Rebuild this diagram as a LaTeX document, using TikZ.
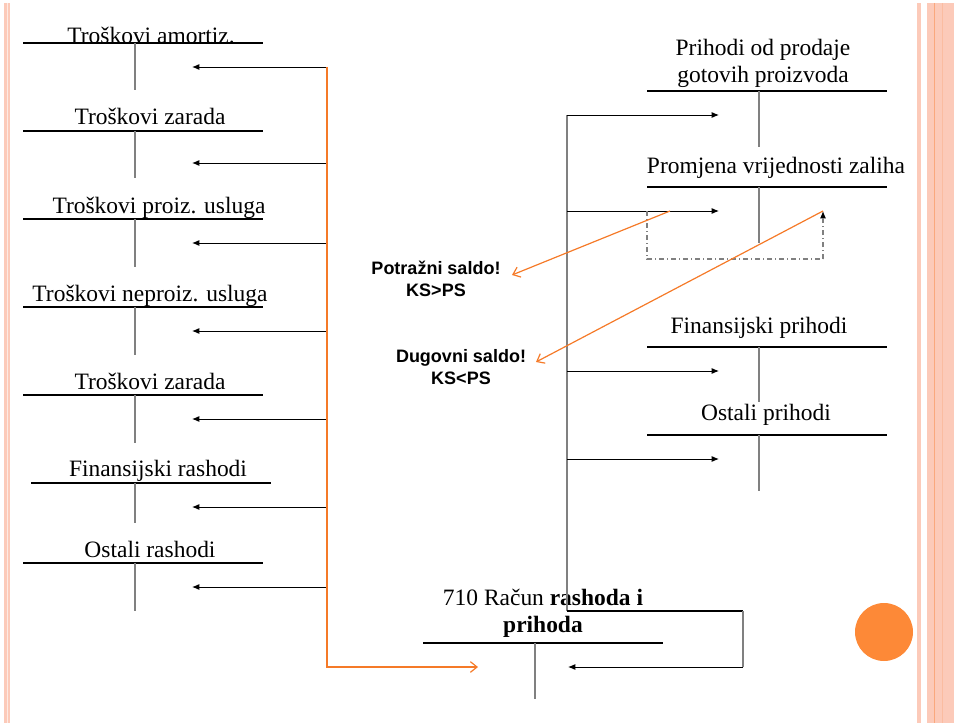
\documentclass[tikz,border=0pt]{standalone}
\usepackage{fontspec}
\setmainfont{Liberation Serif}
\newfontfamily\lblfont{Liberation Sans}
\usetikzlibrary{arrows.meta}
\definecolor{ora}{RGB}{245,122,40}
\definecolor{dot}{RGB}{253,137,55}
\definecolor{strip}{RGB}{252,202,185}
\definecolor{stripd}{RGB}{250,168,125}
\definecolor{stripm}{RGB}{251,188,160}
\definecolor{tgray}{RGB}{128,128,128}
\begin{document}
\begin{tikzpicture}[x=0.75pt,y=-0.75pt,
  acct/.style={font=\fontsize{17.6}{20.3}\selectfont, anchor=base, inner sep=0pt},
  acct2/.style={font=\fontsize{17.6}{20.3}\selectfont, align=center, inner sep=0pt},
  hline/.style={line width=0.8pt, black},
  vline/.style={line width=1.5pt, tgray},
  blk/.style={-{Latex[length=5.5pt,width=4.5pt]}, line width=0.7pt},
  orl/.style={ora, line width=0.9pt},
  ora arrow/.style={orl, -{Straight Barb[length=5pt,width=8pt]}},
  dd/.style={tgray, line width=0.8pt, dash pattern=on 4pt off 2pt on 1pt off 2pt},
  sal/.style={font=\lblfont\bfseries\fontsize{13.5}{16.5}\selectfont, align=center, inner sep=0pt}]
\useasboundingbox (0,0) rectangle (954,724);
% borders
\fill[strip] (4,3) rectangle (10,723);
\draw[white!60!strip, line width=0.6pt] (7,3) -- (7,723);
\fill[strip] (917,3) rectangle (921,723);
\fill[strip] (927,3) rectangle (954,723);
\draw[stripd, line width=1.3pt] (934.5,3) -- (934.5,723);
\draw[stripm, line width=1.1pt] (942.5,3) -- (942.5,723);
\fill[dot] (884,632) circle (29);

% ---------- left accounts ----------
\node[acct] (L1) at (151,44) {Troškovi amortiz.};
\draw[hline] (23,43) -- (263,43); \draw[vline] (135,43) -- (135,90);
\node[acct] (L2) at (150,125) {Troškovi zarada};
\draw[hline] (23,131) -- (263,131); \draw[vline] (135,131) -- (135,178);
\node[acct] (L3) at (159,213) {Troškovi proiz. usluga};
\draw[hline] (23,219) -- (263,219); \draw[vline] (135,219) -- (135,267);
\node[acct] (L4) at (150,301) {Troškovi neproiz. usluga};
\draw[hline] (23,307) -- (263,307); \draw[vline] (135,307) -- (135,355);
\node[acct] (L5) at (150,389) {Troškovi zarada};
\draw[hline] (23,395) -- (263,395); \draw[vline] (135,395) -- (135,443);
\node[acct] (L6) at (158,476) {Finansijski rashodi};
\draw[hline] (31,483) -- (271,483); \draw[vline] (135,483) -- (135,523);
\node[acct] (L7) at (150,557) {Ostali rashodi};
\draw[hline] (23,563) -- (263,563); \draw[vline] (135,563) -- (135,611);

% arrow ends on left accounts
\coordinate (a1) at (192,67);  \coordinate (t1) at (327,67);
\coordinate (a2) at (192,163); \coordinate (t2) at (327,163);
\coordinate (a3) at (192,243); \coordinate (t3) at (327,243);
\coordinate (a4) at (192,331); \coordinate (t4) at (327,331);
\coordinate (a5) at (192,419); \coordinate (t5) at (327,419);
\coordinate (a6) at (192,507); \coordinate (t6) at (327,507);
\coordinate (a7) at (192,587); \coordinate (t7) at (327,587);
\foreach \i in {1,...,7} {\draw[blk] (t\i) -- (a\i);}
\coordinate (tb) at (327,667);
\coordinate (k1) at (478,667);
\draw[ora arrow] (t1) -- (tb) -- (k1);

% ---------- right accounts ----------
\node[acct2] (R1) at (763,63) {Prihodi od prodaje\\gotovih proizvoda};
\draw[hline] (647,91) -- (887,91); \draw[vline] (759,91) -- (759,147);
\node[acct] (R2) at (776,174) {Promjena vrijednosti zaliha};
\draw[hline] (647,187) -- (887,187); \draw[vline] (759,187) -- (759,243);
\node[acct] (R3) at (759,333) {Finansijski prihodi};
\draw[hline] (647,347) -- (887,347); \draw[vline] (759,347) -- (759,402);
\node[acct] (R4) at (766,420) {Ostali prihodi};
\draw[hline] (647,435) -- (887,435); \draw[vline] (759,435) -- (759,491);

% 710 account
\node[acct2] (K) at (543,613) {710 Račun \textbf{rashoda i}\\\textbf{prihoda}};
\draw[hline] (423,643) -- (663,643); \draw[vline] (535,643) -- (535,699);

% right trunk
\coordinate (s1) at (567,115); \coordinate (b1) at (719,115);
\coordinate (s2) at (567,211); \coordinate (b2) at (719,211);
\coordinate (s3) at (567,371); \coordinate (b3) at (719,371);
\coordinate (s4) at (567,459); \coordinate (b4) at (719,459);
\coordinate (sb) at (567,611);
\draw[vline, line width=1.3pt] (s1) -- (sb);
\foreach \i in {1,...,4} {\draw[blk] (s\i) -- (b\i);}
\coordinate (c1) at (743,611); \coordinate (c2) at (743,667); \coordinate (k2) at (568,667);
\draw[line width=0.8pt] (sb) -- (c1);
\draw[vline, line width=1.3pt] (c1) -- (c2);
\draw[blk] (c2) -- (k2);

% dash-dot loop
\coordinate (d0) at (647,211); \coordinate (d1) at (647,259);
\coordinate (d2) at (823,259); \coordinate (d3) at (823,211);
\draw[dd] (d0) -- (d1) -- (d2);
\draw[dd, -{Latex[length=5.5pt,width=4.5pt]}, solid, black] (823,218) -- (d3);
\draw[dd] (d2) -- (823,218);

% labels
\node[sal] (P) at (436,279) {Potražni saldo!\\KS>PS};
\node[sal] (D) at (461,367) {Dugovni saldo!\\KS<PS};
\coordinate (o1s) at (670,211); \coordinate (o1e) at (512,275);
\coordinate (o2e) at (536,362);
\draw[ora arrow] (o1s) -- (o1e);
\draw[ora arrow] (d3) -- (o2e);
\end{tikzpicture}
\end{document}
